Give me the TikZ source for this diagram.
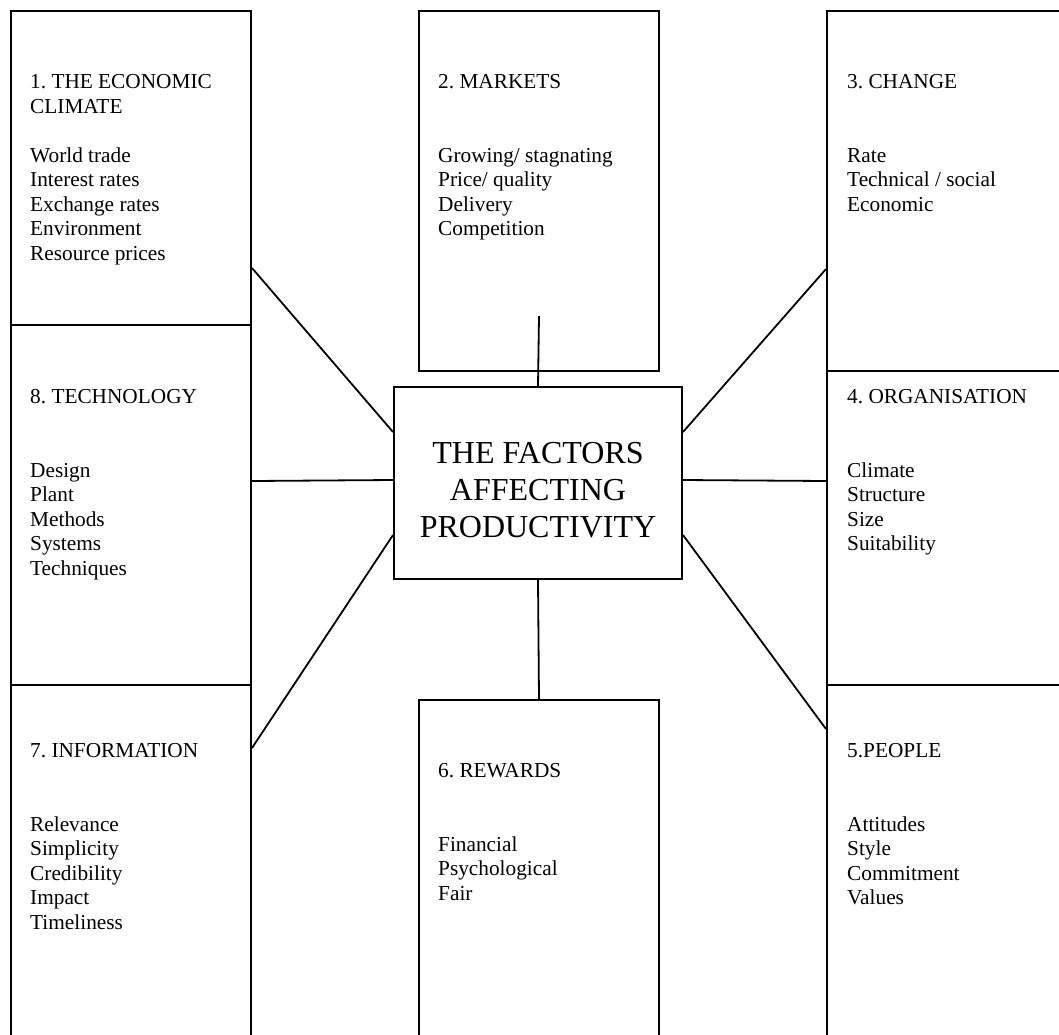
\documentclass[tikz,border=0pt]{standalone}
\usepackage{fontspec}
\setmainfont{Liberation Serif}
\frenchspacing

\tikzset{
  factorbox/.style={draw, line width=2pt, rectangle, inner sep=0pt, anchor=north west},
  factortext/.style={align=left, inner sep=0pt, anchor=north west, font=\fontsize{21.3}{24.5}\selectfont},
  link/.style={line width=1.8pt},
}

\begin{document}
\begin{tikzpicture}[x=1pt, y=-1pt]
\useasboundingbox (0,0) rectangle (1059,1034);
\fill[white] (0,0) rectangle (1059,1034);
\clip (0,0) rectangle (1059,1034);

% Left column
\node[factorbox, minimum width=240pt, minimum height=314pt] (b1) at (10,10) {};
\node[factorbox, minimum width=240pt, minimum height=360pt] (b8) at (10,324) {};
\node[factorbox, minimum width=240pt, minimum height=360pt] (b7) at (10,684) {};

% Middle column
\node[factorbox, minimum width=240pt, minimum height=360pt] (b2) at (418,10) {};
\node[factorbox, minimum width=240pt, minimum height=345pt] (b6) at (418,699) {};

% Right column
\node[factorbox, minimum width=244pt, minimum height=360pt] (b3) at (826,10) {};
\node[factorbox, minimum width=244pt, minimum height=314pt] (b4) at (826,370) {};
\node[factorbox, minimum width=244pt, minimum height=360pt] (b5) at (826,684) {};

% Centre
\node[draw, line width=2pt, minimum width=288pt, minimum height=192pt, inner sep=0pt] (c) at (538,483) {};
\node[align=center, inner sep=0pt, font=\fontsize{32}{36.7}\selectfont] (ct) at ([yshift=-7pt]c.center) {THE FACTORS\\AFFECTING\\PRODUCTIVITY};

% Texts
\node[factortext] (t1) at ([xshift=20pt, yshift=-64.6pt]b1.north west) {1. THE ECONOMIC\\CLIMATE\\[24.5pt]World trade\\Interest rates\\Exchange rates\\Environment\\Resource prices};
\node[factortext] (t2) at ([xshift=20pt, yshift=-64.6pt]b2.north west) {2. MARKETS\\[49pt]Growing/ stagnating\\Price/ quality\\Delivery\\Competition};
\node[factortext] (t3) at ([xshift=21pt, yshift=-64.6pt]b3.north west) {3. CHANGE\\[49pt]Rate\\Technical / social\\Economic};
\node[factortext] (t4) at ([xshift=21pt, yshift=-19.6pt]b4.north west) {4. ORGANISATION\\[49pt]Climate\\Structure\\Size\\Suitability};
\node[factortext] (t5) at ([xshift=21pt, yshift=-59.6pt]b5.north west) {5.PEOPLE\\[49pt]Attitudes\\Style\\Commitment\\Values};
\node[factortext] (t6) at ([xshift=20pt, yshift=-64.6pt]b6.north west) {6. REWARDS\\[49pt]Financial\\Psychological\\Fair};
\node[factortext] (t7) at ([xshift=20pt, yshift=-59.6pt]b7.north west) {7. INFORMATION\\[49pt]Relevance\\Simplicity\\Credibility\\Impact\\Timeliness};
\node[factortext] (t8) at ([xshift=20pt, yshift=-65.6pt]b8.north west) {8. TECHNOLOGY\\[49pt]Design\\Plant\\Methods\\Systems\\Techniques};

% Connectors
\draw[link] ([yshift=58pt]b1.south east) -- ([yshift=-46pt]c.north west);
\draw[link] ([yshift=24pt]b8.east) -- ([yshift=3pt]c.west);
\draw[link] ([yshift=-64pt]b7.north east) -- ([yshift=45pt]c.south west);
\draw[link] ([yshift=103pt]b3.south west) -- ([yshift=-46pt]c.north east);
\draw[link] ([yshift=47pt]b4.west) -- ([yshift=3pt]c.east);
\draw[link] ([yshift=-45pt]b5.north west) -- ([yshift=45pt]c.south east);
\draw[link] ([yshift=56pt]b2.south) -- (c.north);
\draw[link] (c.south) -- (b6.north);
\end{tikzpicture}
\end{document}
